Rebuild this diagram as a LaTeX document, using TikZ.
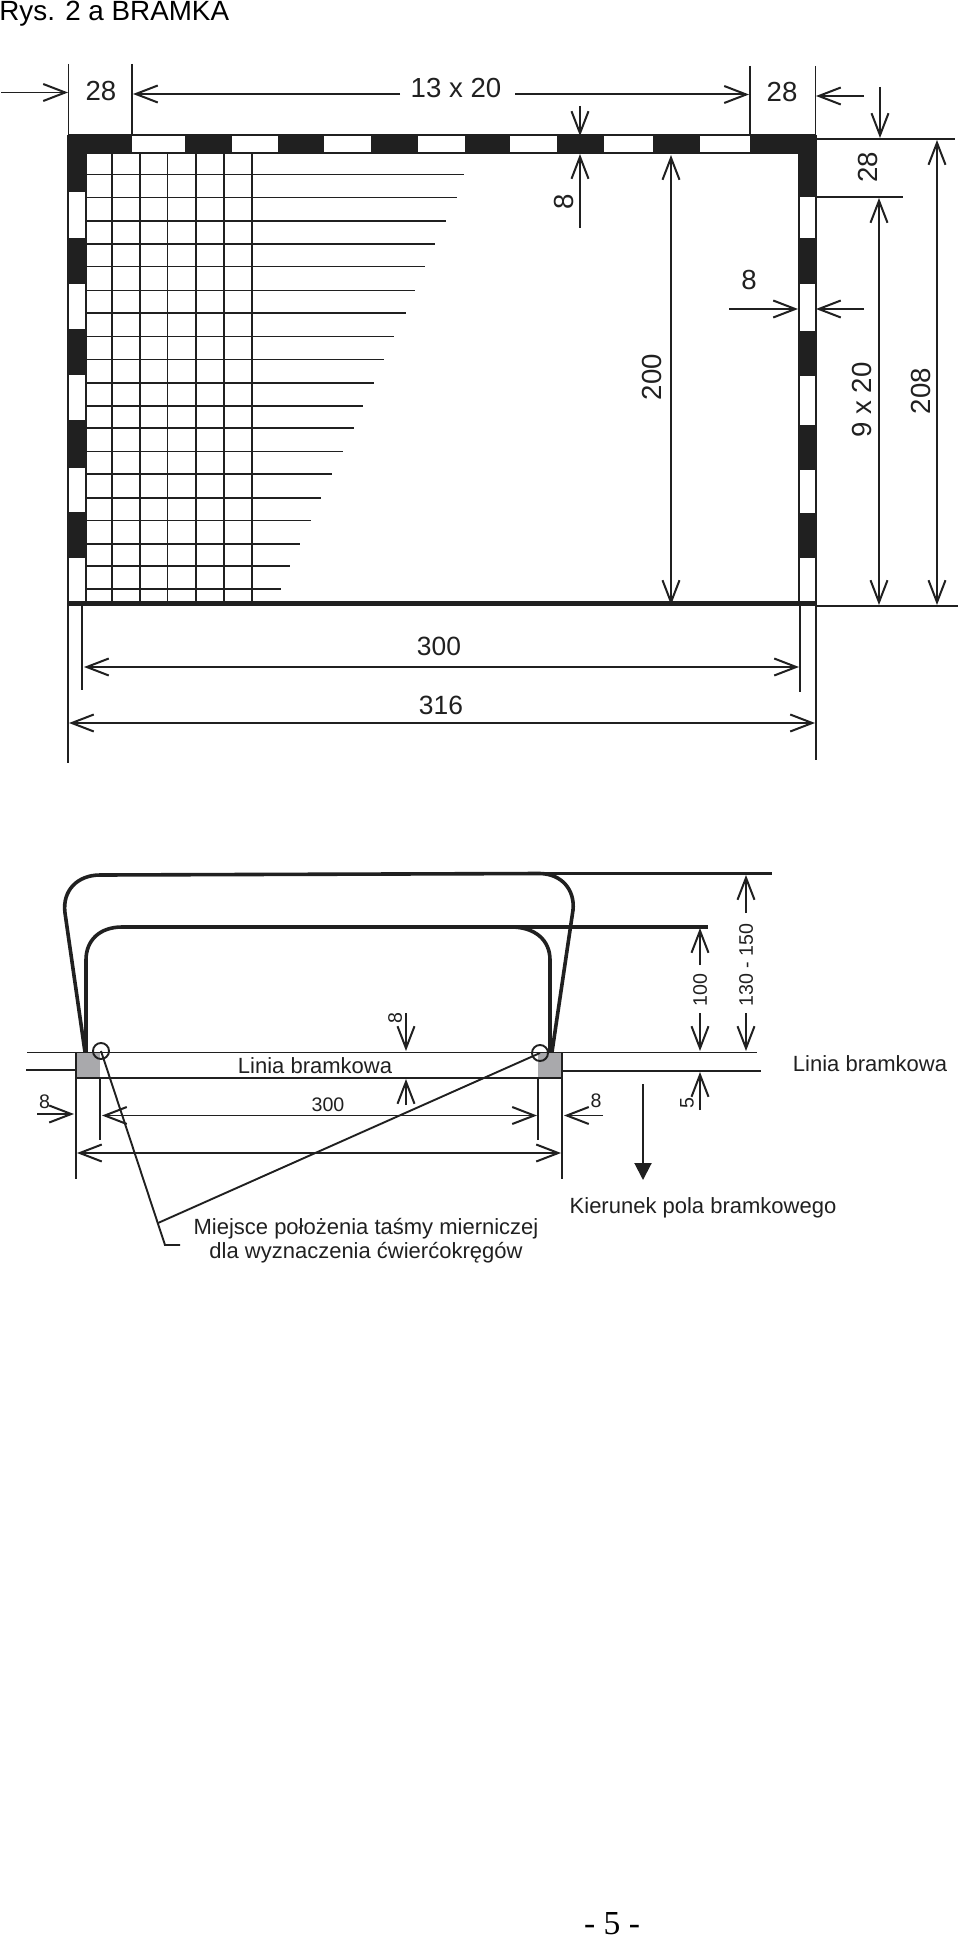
\documentclass[tikz,border=0pt]{standalone}
\usepackage{fontspec}
\setmainfont{Liberation Sans}
\newfontfamily\pagefont{Liberation Serif}
\usetikzlibrary{arrows.meta}
\definecolor{ink}{HTML}{202020}
\definecolor{postgrey}{HTML}{A9A9AC}
\tikzset{
  thin line/.style={draw=ink,line width=0.8pt},
  net line/.style={draw=ink,line width=0.8pt},
  frame line/.style={draw=ink,line width=0.75pt},
  bar line/.style={draw=ink,line width=1.8pt,line join=round},
  tape line/.style={draw=ink,line width=0.95pt},
  barb/.tip={Straight Barb[length=11pt,width=8.5pt,line width=1pt]},
  dimen/.style={thin line,-barb},
  dimen2/.style={thin line,barb-barb},
  big/.style={inner sep=0pt,text=ink,font=\fontsize{13.8}{15}\selectfont},
  small/.style={inner sep=0pt,text=ink,font=\fontsize{9.8}{11}\selectfont},
  label/.style={inner sep=0pt,text=ink,font=\fontsize{11}{15}\selectfont},
  blk/.style={fill=ink,draw=none}
}
\begin{document}
\begin{tikzpicture}[x=0.5pt,y=-0.5pt]
\useasboundingbox[fill=white] (0,0) rectangle (960,1937);
\node[inner sep=0pt,anchor=base west,font=\fontsize{13.9}{15}\selectfont] (title) at (-1,20.5) {Rys. 2 a BRAMKA};
% net
\foreach \x in {112,140,167.5,196,224,252}
  \draw[net line] (\x,153) -- (\x,603);
\foreach \y/\e in {174.5/464,197.5/457,221/446,244/435,266.5/425,290.5/415,313/405.5,336.5/394,359.5/384,383/374,406/363,428/353.5,451.5/342.5,474/332,498/321,520.5/310.5,544/300,566/290,589/280.5}
  \draw[net line] (86,\y) -- (\e,\y);
% frame outlines
\draw[frame line] (68,135) -- (816,135);
\draw[frame line] (86,153) -- (799,153);
\draw[frame line] (68,135) -- (68,603);
\draw[frame line] (86,153) -- (86,603);
\draw[frame line] (799,153) -- (799,603);
\draw[frame line] (816,135) -- (816,603);
% top bar
\foreach \a/\b in {68/132,185/232,278/324,371/418,465/510,557/604,653/700,750/816}
  \fill[blk] (\a,135) rectangle (\b,153);
% left post
\foreach \a/\b in {135/192,238/284,329/375,420/468,512/558}
  \fill[blk] (68,\a) rectangle (86,\b);
% right post
\foreach \a/\b in {135/197,238/284,331/376,425/470,513/558}
  \fill[blk] (799,\a) rectangle (816,\b);
\draw[draw=ink,line width=2.4pt] (68,603.5) -- (816,603.5);
% top dimension lines
\draw[thin line] (68.5,64) -- (68.5,135);
\draw[thin line] (132,64) -- (132,135);
\draw[thin line] (750,66) -- (750,135);
\draw[thin line] (815.5,66) -- (815.5,135);
\draw[dimen] (1,92.5) -- (68,92.5);
\draw[dimen,line width=1pt] (400,94) -- (133,94);
\draw[dimen,line width=1pt] (515,94.5) -- (749,94.5);
\draw[dimen] (864,96) -- (816,96);
\node[big] (t28a) at (101,91) {28};
\node[big] (t13) at (456,88) {13 x 20};
\node[big] (t28b) at (782,92.5) {28};
% right dimensions
\draw[thin line] (816,139) -- (955,139);
\draw[thin line] (816,197) -- (903,197);
\draw[thin line] (816,606) -- (958,606);
\draw[dimen,line width=1pt] (880,87) -- (880,138);
\draw[dimen2,line width=1pt] (879,198) -- (879,605);
\draw[dimen2] (937,140) -- (937,605);
\draw[dimen2] (671,155) -- (671,605);
\node[big,rotate=90] (t28c) at (868,167) {28};
\node[big,rotate=90] (t9) at (862,400) {9 x 20};
\node[big,rotate=90] (t208) at (921,391) {208};
\node[big,rotate=90] (t200) at (652,377) {200};
% 8 top and right
\draw[dimen] (580,106) -- (580,136);
\draw[dimen] (580,228) -- (580,154);
\node[big,rotate=90] (t8a) at (564,202) {8};
\draw[dimen] (729,309) -- (798,309);
\draw[dimen] (864,309) -- (816,309);
\node[big] (t8b) at (749,280) {8};
% bottom dimensions
\draw[thin line] (68,603) -- (68,763);
\draw[thin line] (816,603) -- (816,760);
\draw[thin line] (82,604) -- (82,690);
\draw[thin line] (800,604) -- (800,692);
\draw[dimen2] (84,667) -- (799,667);
\draw[dimen2] (69,723) -- (815,723);
\node[big,font=\fontsize{13.2}{15}\selectfont] (t300) at (439,646) {300};
\node[big,font=\fontsize{13.2}{15}\selectfont] (t316) at (441,705) {316};
% plan view
\fill[postgrey] (76,1052) rectangle (100,1078);
\fill[postgrey] (538,1052) rectangle (562,1078);
\draw[thin line] (27,1052.5) -- (757,1052.5);
\draw[thin line] (26,1070) -- (76,1070);
\draw[thin line] (76,1078) -- (562,1078);
\draw[thin line] (562,1071) -- (761,1071);
\draw[thin line] (76,1052) -- (76,1179);
\draw[thin line] (100,1078) -- (100,1140);
\draw[thin line] (538,1078) -- (538,1140);
\draw[thin line] (562,1052) -- (562,1179);
% goal outlines
\draw[bar line] (85,1052) -- (65,913) .. controls (62,890) and (78,875) .. (100,875) -- (540,873.5) .. controls (562,874) and (575,890) .. (573,910) -- (552,1052);
\draw[bar line] (540,873.5) -- (772,873.5);
\draw[bar line] (86,1052) -- (86,960) .. controls (86,940) and (100,927) .. (122,927) -- (511,927) .. controls (535,927) and (550,940) .. (550,960) -- (550,1052);
\draw[bar line] (511,927) -- (708,927);
% circles
\coordinate (cl) at (101,1051);
\coordinate (cr) at (540,1053);
\coordinate (bend) at (158,1223);
\coordinate (foot) at (165,1245);
\coordinate (footend) at (180,1245);
\draw[tape line] (cl) circle[radius=8];
\draw[tape line] (cr) circle[radius=8];
\draw[tape line] (cl) -- (foot) -- (footend);
\draw[tape line] (bend) -- (cr);
% plan dimensions
\draw[dimen] (37,1114) -- (74,1114);
\draw[dimen] (603,1115.5) -- (564,1115.5);
\draw[dimen2] (102,1115.5) -- (537,1115.5);
\draw[dimen2] (77,1153) -- (561,1153);
\draw[dimen] (406,1013) -- (406,1051);
\draw[dimen] (406,1105) -- (406,1079);
\draw[dimen,line width=1.1pt] (700,965) -- (700,928);
\draw[dimen,line width=1.1pt] (700,1013) -- (700,1051);
\draw[dimen,line width=1.1pt] (746,913) -- (746,875);
\draw[dimen,line width=1.1pt] (746,1013) -- (746,1051);
\draw[dimen] (700,1110) -- (700,1072);
\draw[draw=ink,line width=1pt,-{Triangle[length=8.5pt,width=8.5pt]}] (643,1084) -- (643,1180);
\node[small] (p8a) at (44.5,1102) {8};
\node[small] (p8b) at (596,1101) {8};
\node[small] (p300) at (328,1105) {300};
\node[small,rotate=90] (p8c) at (395,1018) {8};
\node[small,rotate=90] (p100) at (700,990) {100};
\node[small,rotate=90] (p130) at (746,965) {130 - 150};
\node[small,rotate=90] (p5) at (687,1103) {5};
\node[label] (lin1) at (315,1065.5) {Linia bramkowa};
\node[label] (lin2) at (870,1063.5) {Linia bramkowa};
\node[label] (kier) at (703,1208) {Kierunek pola bramkowego};
\node[label] (m1) at (366,1229) {Miejsce położenia taśmy mierniczej};
\node[label] (m2) at (366,1253) {dla wyznaczenia ćwierćokręgów};
\node[inner sep=0pt,anchor=base,font=\pagefont\fontsize{16.8}{18}\selectfont] (page) at (612,1934) {- 5 -};
\end{tikzpicture}
\end{document}
